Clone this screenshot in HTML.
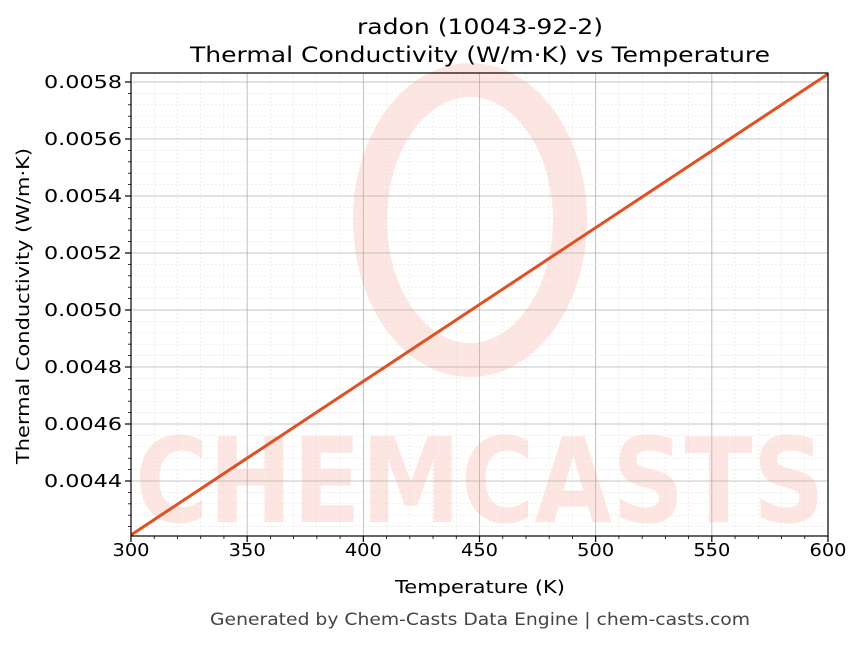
<!DOCTYPE html>
<html><head><meta charset="utf-8"><style>
body{margin:0;background:#fff;width:863px;height:644px;overflow:hidden}
text{font-family:"DejaVu Sans","Liberation Sans",sans-serif;fill:#000}
</style></head><body>
<svg id="s" width="863" height="644" xmlns="http://www.w3.org/2000/svg">
<g opacity="0.13" fill="#f0401e">
<ellipse cx="470" cy="220" rx="100" ry="140" fill="none" stroke="#f0401e" stroke-width="34"/>
<text x="480" y="522" font-size="118" font-weight="bold" text-anchor="middle" textLength="690" lengthAdjust="spacingAndGlyphs" style="fill:#f0401e">CHEMCASTS</text>
</g>
<g id="grid"></g>
<line x1="131" y1="535" x2="828" y2="74" stroke="#e05020" stroke-width="3"/>
<rect x="131" y="73" width="697" height="463" fill="none" stroke="#000" stroke-width="1.2"/>
<g id="ticks"></g>
<text x="480" y="34" font-size="21" text-anchor="middle" textLength="246" lengthAdjust="spacingAndGlyphs">radon (10043-92-2)</text>
<text x="480" y="62" font-size="21" text-anchor="middle" textLength="580" lengthAdjust="spacingAndGlyphs">Thermal Conductivity (W/m·K) vs Temperature</text>
<text x="480" y="593" font-size="18" text-anchor="middle" textLength="170" lengthAdjust="spacingAndGlyphs">Temperature (K)</text>
<text x="29" y="306" font-size="18" text-anchor="middle" transform="rotate(-90 29 306)" textLength="316" lengthAdjust="spacingAndGlyphs">Thermal Conductivity (W/m·K)</text>
<text x="480" y="625" font-size="17" text-anchor="middle" style="fill:#444" textLength="540" lengthAdjust="spacingAndGlyphs">Generated by Chem-Casts Data Engine | chem-casts.com</text>
</svg>
<script>
var NS="http://www.w3.org/2000/svg",g=document.getElementById('grid'),t=document.getElementById('ticks');
function L(p,x1,y1,x2,y2,c,w,d){var l=document.createElementNS(NS,'line');l.setAttribute('x1',x1);l.setAttribute('y1',y1);l.setAttribute('x2',x2);l.setAttribute('y2',y2);l.setAttribute('stroke',c);l.setAttribute('stroke-width',w);if(d)l.setAttribute('stroke-dasharray',d);p.appendChild(l);}
function T(x,y,s,a,w){var e=document.createElementNS(NS,'text');e.setAttribute('x',x);e.setAttribute('y',y);e.setAttribute('font-size',18);e.setAttribute('text-anchor',a);e.setAttribute('textLength',w);e.setAttribute('lengthAdjust','spacingAndGlyphs');e.textContent=s;t.appendChild(e);}
var px=697/300;
for(var k=300;k<=600;k+=10){var x=131+(k-300)*px;if(k%50==0){L(g,x,73,x,536,'#b0b0b0',0.8);L(t,x,536,x,542,'#000',1.2);T(x,556,k,'middle',37);}else{L(g,x,73,x,536,'#ddd',0.5,'2,2');L(t,x,536,x,539,'#000',0.8);}}
for(var i=-4;i<=40;i++){var y=481-i*11.4;if(y<73||y>536)continue;if(i%5==0){L(g,131,y,828,y,'#b0b0b0',0.8);L(t,125,y,131,y,'#000',1.2);T(122,y+6,(0.0044+i/5*0.0002).toFixed(4),'end',78);}else{L(g,131,y,828,y,'#ddd',0.5,'2,2');L(t,128,y,131,y,'#000',0.8);}}
</script>
</body></html>
